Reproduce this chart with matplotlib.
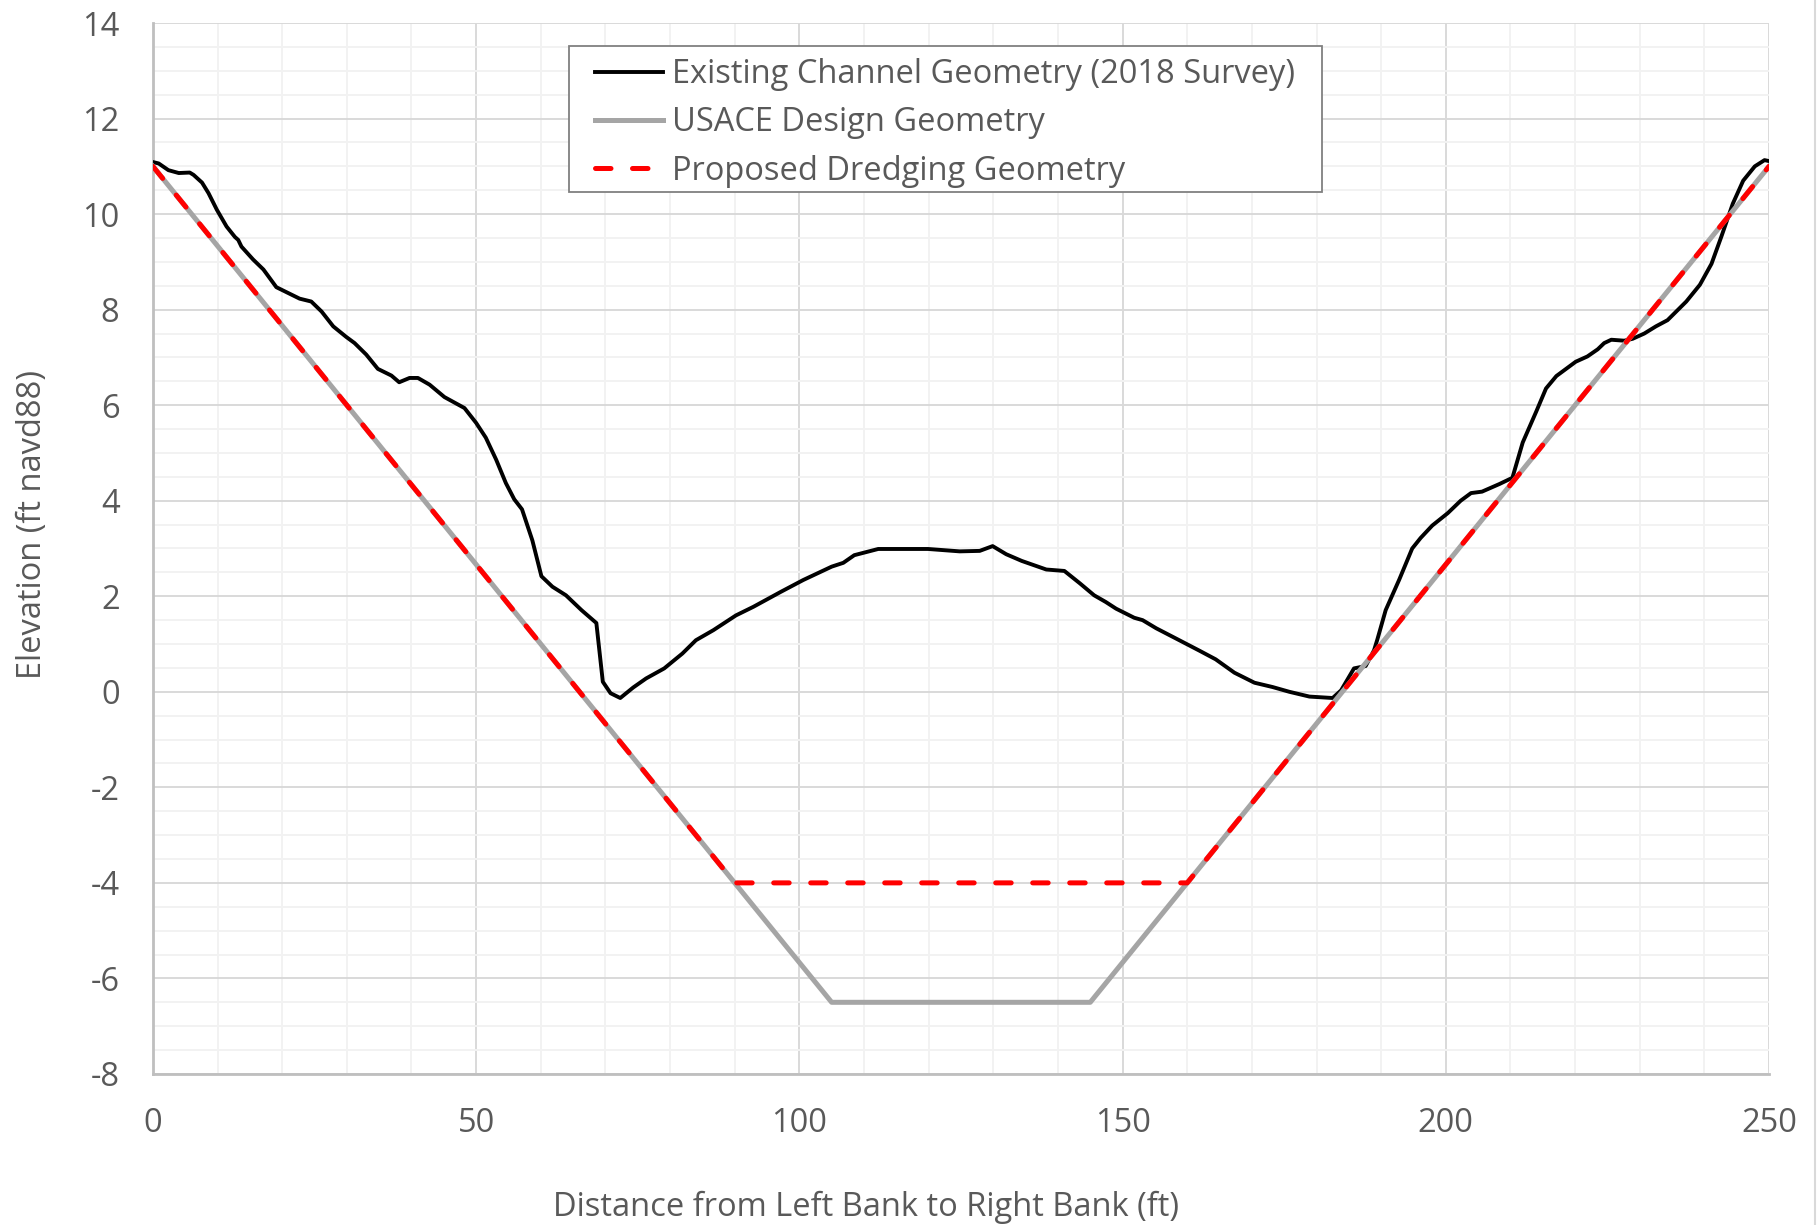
import matplotlib.pyplot as plt
from matplotlib.lines import Line2D
from matplotlib.patches import Rectangle
from matplotlib.ticker import MultipleLocator

# surveyed channel profile (ft from left bank, ft navd88)
survey_x = [0, 0.9, 2.4, 4.0, 5.7, 6.3, 7.6, 8.6, 9.9, 11.4, 12.7, 13.2, 13.7, 15.5,
            17.1, 19.1, 20.9, 22.7, 24.5, 26.1, 27.9, 29.9, 31.2, 33.0, 34.8, 36.9,
            38.1, 39.7, 41.0, 42.8, 45.1, 48.2, 50.0, 51.5, 53.1, 54.6, 55.9, 57.1,
            58.7, 60.1, 61.8, 63.9, 66.3, 68.6, 69.6, 70.8, 72.3, 74.3, 76.3, 79.1,
            81.9, 84.0, 86.7, 90.2, 92.9, 97.1, 100.6, 105.0, 106.8, 108.5, 112.2,
            119.9, 124.8, 127.9, 129.9, 132.0, 134.4, 138.2, 141.0, 143.4, 145.6,
            147.4, 149.0, 151.8, 153.1, 155.2, 158.2, 161.9, 164.4, 167.3, 170.4,
            173.2, 175.8, 178.9, 182.5, 183.8, 185.8, 187.6, 188.9, 189.4, 190.7,
            192.8, 194.8, 196.1, 197.9, 200.3, 202.3, 203.9, 205.6, 208.3, 210.3,
            211.9, 214.0, 215.5, 217.1, 220.1, 221.9, 223.5, 224.5, 225.6, 227.6,
            228.9, 230.7, 232.5, 234.3, 237.2, 239.3, 241.1, 242.6, 244.4, 246.0,
            247.8, 249.3, 250.0]
survey_y = [11.09, 11.06, 10.92, 10.86, 10.87, 10.82, 10.66, 10.44, 10.09, 9.74, 9.52,
            9.46, 9.32, 9.05, 8.84, 8.47, 8.35, 8.23, 8.17, 7.96, 7.65, 7.43, 7.30,
            7.06, 6.76, 6.62, 6.48, 6.57, 6.57, 6.43, 6.17, 5.94, 5.63, 5.32, 4.86,
            4.37, 4.03, 3.82, 3.17, 2.42, 2.20, 2.02, 1.71, 1.44, 0.21, -0.03, -0.13,
            0.09, 0.28, 0.49, 0.80, 1.08, 1.29, 1.60, 1.78, 2.09, 2.34, 2.62, 2.70,
            2.86, 2.99, 2.99, 2.94, 2.95, 3.05, 2.88, 2.74, 2.56, 2.53, 2.27, 2.02,
            1.88, 1.74, 1.55, 1.50, 1.33, 1.12, 0.86, 0.68, 0.40, 0.19, 0.10, 0.0,
            -0.10, -0.13, 0.03, 0.49, 0.54, 0.87, 1.09, 1.71, 2.35, 3.00, 3.22, 3.48,
            3.74, 4.00, 4.16, 4.19, 4.35, 4.48, 5.22, 5.87, 6.35, 6.61, 6.91, 7.02,
            7.17, 7.30, 7.37, 7.35, 7.39, 7.50, 7.65, 7.78, 8.17, 8.52, 8.96, 9.52,
            10.22, 10.70, 11.00, 11.13, 11.11]

# design templates
usace_x = [0, 105, 145, 250]
usace_y = [11, -6.5, -6.5, 11]
dredge_x = [0, 90, 160, 250]
dredge_y = [11, -4, -4, 11]

labels = ["Existing Channel Geometry (2018 Survey)",
          "USACE Design Geometry",
          "Proposed Dredging Geometry"]

txt = "#595959"
fs = 23.5
plt.rcParams["font.family"] = ["Open Sans", "DejaVu Sans"]
plt.rcParams["axes.unicode_minus"] = False

fig = plt.figure(figsize=(18.2, 12.25), dpi=100)
ax = fig.add_axes([0.084, 0.1233, 0.888, 0.8579])

ax.plot(survey_x, survey_y, color="black", lw=2.8, label=labels[0], zorder=3)
ax.plot(usace_x, usace_y, color="#a5a5a5", lw=3.6, label=labels[1], zorder=4)
ax.plot(dredge_x, dredge_y, color="#ff0000", lw=3.6, dashes=(3.1, 4.3),
        dash_capstyle="round", label=labels[2], zorder=5)

ax.set_xlim(0, 250)
ax.set_ylim(-8, 14)
ax.xaxis.set_major_locator(MultipleLocator(50))
ax.xaxis.set_minor_locator(MultipleLocator(10))
ax.yaxis.set_major_locator(MultipleLocator(2))
ax.yaxis.set_minor_locator(MultipleLocator(0.5))
ax.grid(which="major", color="#d9d9d9", lw=1.4)
ax.grid(which="minor", color="#f2f2f2", lw=1.4)
ax.set_axisbelow(True)

for side in ["top", "right"]:
    ax.spines[side].set_visible(False)
for side in ["left", "bottom"]:
    ax.spines[side].set_color("#bfbfbf")
    ax.spines[side].set_linewidth(2)

ax.tick_params(which="both", length=0)
ax.tick_params(axis="x", pad=24, labelsize=fs, labelcolor=txt)
ax.tick_params(axis="y", pad=24, labelsize=fs, labelcolor=txt)

ax.set_xlabel("Distance from Left Bank to Right Bank (ft)", fontsize=fs, color=txt)
ax.set_ylabel("Elevation (ft navd88)", fontsize=fs, color=txt)
ax.xaxis.set_label_coords(0.441, -0.111)
ax.yaxis.set_label_coords(-0.0645, 0.523)

# legend box drawn separately so the inner padding can differ per side
ax.add_patch(Rectangle((0.2574, 0.8392), 0.466, 0.1389, transform=ax.transAxes,
                       facecolor="white", edgecolor="#808080", lw=1.3, zorder=6))
leg = ax.legend(loc="upper left", bbox_to_anchor=(0.2735, 0.9666), fontsize=fs,
                handlelength=2.1, handletextpad=0.25, borderpad=0,
                labelspacing=0.47, borderaxespad=0, frameon=False)
leg.set_zorder(7)
for t in leg.get_texts():
    t.set_color(txt)

fig.add_artist(Line2D([0.9975, 0.9975], [0, 1], color="#d9d9d9", lw=1.5,
                      transform=fig.transFigure))

fig.savefig("out.png", dpi=100)
